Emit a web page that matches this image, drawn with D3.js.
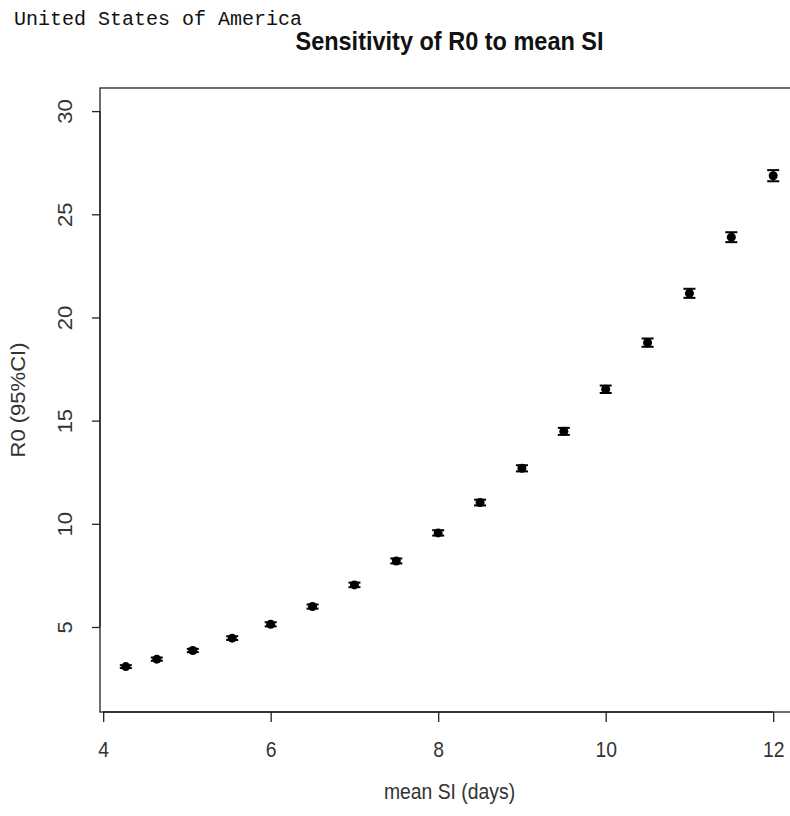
<!DOCTYPE html>
<html>
<head>
<meta charset="utf-8">
<script src="https://cdn.jsdelivr.net/npm/d3@7"></script>
<style>
  body { margin: 0; background: #fff; }
  svg { display: block; }
  .axis path, .axis line { stroke: #222; stroke-width: 1.3; }
  .axis text { font-family: 'Liberation Sans', Arial, sans-serif; font-size: 22px; fill: #333; }
</style>
</head>
<body>
<div id="chart"></div>
<script>
const meanSI = [4.27, 4.64, 5.07, 5.54, 6.0, 6.5, 7.0, 7.5, 8.0, 8.5, 9.0, 9.5, 10.0, 10.5, 11.0, 11.5, 12.0];
const r0 = [3.08, 3.44, 3.86, 4.46, 5.13, 5.99, 7.04, 8.20, 9.56, 11.03, 12.69, 14.48, 16.52, 18.78, 21.17, 23.89, 26.87];
const r0Lower = [3.01, 3.36, 3.78, 4.37, 5.03, 5.89, 6.93, 8.08, 9.43, 10.89, 12.54, 14.31, 16.34, 18.58, 20.95, 23.65, 26.60];
const r0Upper = [3.15, 3.52, 3.94, 4.55, 5.23, 6.09, 7.15, 8.32, 9.69, 11.17, 12.84, 14.65, 16.70, 18.98, 21.39, 24.13, 27.14];
const xTicks = [4, 6, 8, 10, 12];
const yTicks = [5, 10, 15, 20, 25, 30];

const points = meanSI.map((d, i) => ({ si: d, r0: r0[i], lo: r0Lower[i], hi: r0Upper[i] }));

const width = 790;
const height = 816;
const plot = { left: 100, top: 88, right: 799, bottom: 712 };
const squeeze = 0.88; // the picture is a bit narrower than it is tall

const svg = d3.select('#chart').append('svg')
  .attr('width', width)
  .attr('height', height);

// R pads the data range by 4% on each side
const xScale = d3.scaleLinear()
  .domain([3.962, 12.308])
  .range([plot.left, plot.right]);

const yScale = d3.scaleLinear()
  .domain([0.88, 31.12])
  .range([plot.bottom, plot.top]);

// box
svg.append('rect')
  .attr('x', plot.left)
  .attr('y', plot.top)
  .attr('width', plot.right - plot.left)
  .attr('height', plot.bottom - plot.top)
  .style('fill', 'none')
  .style('stroke', '#222')
  .style('stroke-width', 1.3);

const xAxis = d3.axisBottom(xScale)
  .tickValues(xTicks)
  .tickSizeInner(10)
  .tickSizeOuter(0)
  .tickPadding(4);

const xAxisG = svg.append('g')
  .attr('class', 'axis')
  .attr('transform', `translate(0,${plot.bottom})`)
  .call(xAxis);

xAxisG.select('.domain')
  .attr('d', `M${xScale(xTicks[0])},0H${xScale(xTicks[xTicks.length - 1])}`);

xAxisG.selectAll('.tick text')
  .attr('dy', null)
  .attr('y', 45)
  .attr('transform', `scale(${squeeze},1)`);

const yAxis = d3.axisLeft(yScale)
  .tickValues(yTicks)
  .tickSizeInner(8)
  .tickSizeOuter(0);

const yAxisG = svg.append('g')
  .attr('class', 'axis')
  .attr('transform', `translate(${plot.left},0)`)
  .call(yAxis);

yAxisG.select('.domain')
  .attr('d', `M0,${yScale(yTicks[0])}V${yScale(yTicks[yTicks.length - 1])}`);

yAxisG.selectAll('.tick text')
  .attr('x', null)
  .attr('dy', null)
  .attr('text-anchor', 'middle')
  .attr('transform', `translate(-28,0) scale(${squeeze},1) rotate(-90)`);

// error bars
const bars = svg.append('g').attr('class', 'errorBars');

bars.selectAll('line.stem')
  .data(points)
  .enter()
  .append('line')
  .attr('class', 'stem')
  .attr('x1', (d) => xScale(d.si))
  .attr('x2', (d) => xScale(d.si))
  .attr('y1', (d) => yScale(d.lo))
  .attr('y2', (d) => yScale(d.hi))
  .style('stroke', '#000')
  .style('stroke-width', 1.5);

['lo', 'hi'].forEach((k) => {
  bars.selectAll(`line.cap-${k}`)
    .data(points)
    .enter()
    .append('line')
    .attr('class', `cap-${k}`)
    .attr('x1', (d) => xScale(d.si) - 6)
    .attr('x2', (d) => xScale(d.si) + 6)
    .attr('y1', (d) => yScale(d[k]))
    .attr('y2', (d) => yScale(d[k]))
    .style('stroke', '#000')
    .style('stroke-width', 2);
});

svg.append('g')
  .attr('class', 'points')
  .selectAll('circle')
  .data(points)
  .enter()
  .append('circle')
  .attr('cx', (d) => xScale(d.si))
  .attr('cy', (d) => yScale(d.r0))
  .attr('r', 4.5)
  .style('fill', '#000');

// titles
svg.append('text')
  .attr('transform', `translate(${(plot.left + plot.right) / 2},50) scale(0.94,1)`)
  .attr('text-anchor', 'middle')
  .style('font-family', "'Liberation Sans', Arial, sans-serif")
  .style('font-weight', 'bold')
  .style('font-size', '25px')
  .style('fill', '#111')
  .text('Sensitivity of R0 to mean SI');

svg.append('text')
  .attr('x', 14)
  .attr('y', 25)
  .style('font-family', "'Liberation Mono', 'DejaVu Sans Mono', monospace")
  .style('font-size', '20px')
  .style('fill', '#111')
  .text('United States of America');

svg.append('text')
  .attr('transform', `translate(${(plot.left + plot.right) / 2},799) scale(${squeeze},1)`)
  .attr('text-anchor', 'middle')
  .style('font-family', "'Liberation Sans', Arial, sans-serif")
  .style('font-size', '22px')
  .style('fill', '#333')
  .text('mean SI (days)');

svg.append('text')
  .attr('transform', `translate(25,${(plot.top + plot.bottom) / 2}) scale(${squeeze},1) rotate(-90)`)
  .attr('text-anchor', 'middle')
  .style('font-family', "'Liberation Sans', Arial, sans-serif")
  .style('font-size', '22px')
  .style('fill', '#333')
  .text('R0 (95%CI)');
</script>
</body>
</html>
